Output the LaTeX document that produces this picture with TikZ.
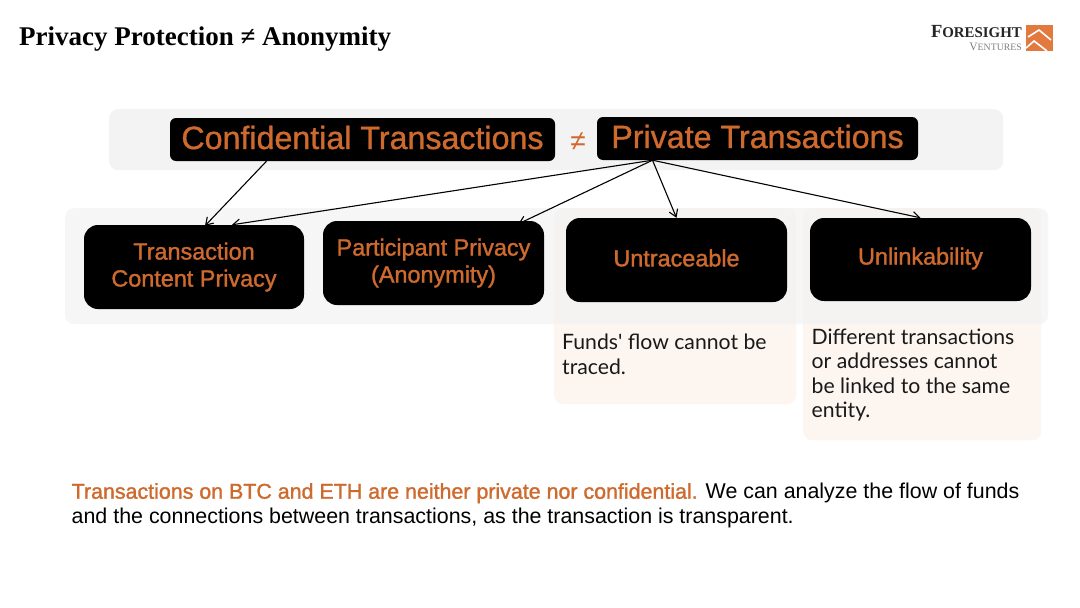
\documentclass[tikz,border=0pt]{standalone}
\usepackage{fontspec}
\setmainfont{Liberation Sans}
\newfontfamily\serifbold{Liberation Serif}[BoldFont={Liberation Serif Bold}]
\newfontfamily\descfont{Lato}
\newfontfamily\medfont{Liberation Sans}[FakeBold=1.0]
\newfontfamily\medfontb{Liberation Sans}[FakeBold=1.4]
\newcommand{\shiftup}[2]{\raisebox{#1}[\height][\depth]{#2}}
\definecolor{accent}{HTML}{CF6A2E}
\definecolor{bandgray}{HTML}{F3F3F3}
\definecolor{peach}{HTML}{FDF6F0}
\definecolor{logoorange}{HTML}{E2793F}
\usetikzlibrary{arrows.meta}
\tikzset{
  band/.style={fill=#1,draw=none,rounded corners=9pt,anchor=north west,inner sep=0pt},
  headbox/.style={fill=black,text=accent,rounded corners=6pt,inner sep=0pt,font=\medfont\fontsize{32.2}{36}\selectfont},
  subbox/.style={fill=black,text=accent,rounded corners=14pt,inner sep=0pt,align=center,minimum width=221pt,font=\medfontb\fontsize{23.4}{27}\selectfont},
  desc/.style={anchor=north west,inner sep=0pt,align=left,text=black!90,font=\descfont\fontsize{21.2}{24.4}\selectfont},
  conn/.style={-{Straight Barb[length=7pt,width=9pt]},line width=1.1pt,black},
}
\begin{document}
\begin{tikzpicture}[x=1pt,y=-1pt]
\useasboundingbox (0,0) rectangle (1080,608);
\fill[white] (0,0) rectangle (1080,608);
% bands
\node[band=bandgray,minimum width=894pt,minimum height=61pt] (topband) at (109,109) {};
\node[band=peach,minimum width=242pt,minimum height=196pt] (peachA) at (554,208) {};
\node[band=peach,minimum width=238pt,minimum height=232pt] (peachB) at (803,208) {};
\node[band=bandgray,opacity=0.75,minimum width=983pt,minimum height=116pt] (lowband) at (65,208) {};
% title
\node[anchor=west,inner sep=0pt,font=\serifbold\bfseries\fontsize{27}{30}\selectfont] (title) at (19,39) {Privacy Protection ≠ Anonymity};
% logo
\node[anchor=east,inner sep=0pt,font=\serifbold\bfseries\fontsize{18.5}{19}\selectfont,text=black!85] (logoA) at (1022,31.5) {F\fontsize{14.9}{19}\selectfont ORESIGHT};
\node[anchor=east,inner sep=0pt,font=\serifbold\fontsize{11.5}{12}\selectfont,text=black!50] (logoB) at (1022,46.5) {V\fontsize{9.8}{12}\selectfont ENTURES};
\fill[logoorange] (1026,25) rectangle (1053,51);
\draw[white,line width=1.6pt] (1028,37) -- (1039,30) -- (1051,40);
\draw[white,line width=1.6pt] (1026,48) -- (1034,41) -- (1047,51);
% head boxes
\node[headbox,minimum width=385pt,minimum height=43pt] (conf) at (362.5,139.5) {\shiftup{2pt}{Confidential Transactions}};
\node[headbox,minimum width=321pt,minimum height=43pt] (priv) at (757.5,138.5) {\shiftup{2pt}{Private Transactions}};
\node[inner sep=0pt,text=accent,font=\fontsize{28}{30}\selectfont] (neq) at (578,142) {≠};
% sub boxes
\node[subbox,minimum width=220pt,minimum height=84pt] (tcp) at (194,267) {Transaction\\Content Privacy};
\node[subbox,minimum height=84pt] (pp) at (433.5,263) {Participant Privacy\\(Anonymity)};
\node[subbox,minimum height=84pt] (unt) at (676.5,260) {\shiftup{2pt}{Untraceable}};
\node[subbox,minimum height=83pt] (unl) at (920.5,259.5) {\shiftup{1pt}{Unlinkability}};
% descriptions
\node[desc] (dA) at (562,334) {Funds' flow cannot be\\traced.};
\node[desc] (dB) at (811.5,328.5) {Different transactions\\or addresses cannot\\be linked to the same\\entity.};
% footer
\node[anchor=north west,inner sep=0pt,align=left,font=\fontsize{21.4}{24.6}\selectfont] (foot) at (71.5,483) {\textcolor{accent}{\medfontb Transactions on BTC and ETH are neither private nor confidential.} We can analyze the flow of funds\\and the connections between transactions, as the transaction is transparent.};
% connectors
\coordinate (cs) at ([xshift=-96pt]conf.south);
\coordinate (ps) at ([xshift=-105pt]priv.south);
\coordinate (e1) at ([xshift=11pt,yshift=-1pt]tcp.north);
\coordinate (e2) at ([xshift=38pt]tcp.north);
\coordinate (e3) at ([xshift=85pt,yshift=-3pt]pp.north);
\draw[conn] (cs) -- (e1);
\draw[conn] (ps) -- (e2);
\draw[conn] (ps) -- (e3);
\draw[conn] (ps) -- (unt.north);
\draw[conn] (ps) -- (unl.north);
\end{tikzpicture}
\end{document}
